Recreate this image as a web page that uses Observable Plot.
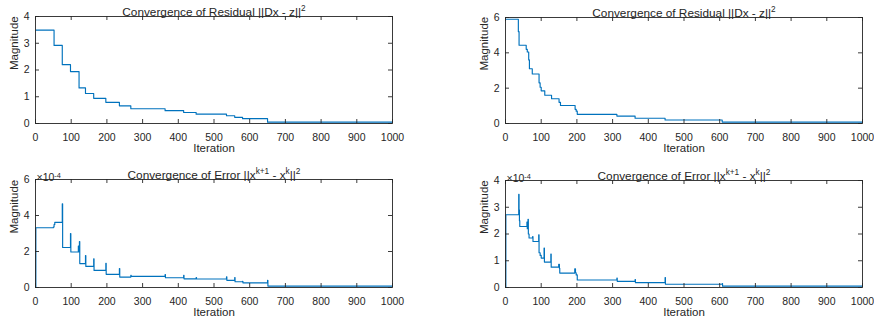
<!DOCTYPE html>
<html><head><meta charset="utf-8">
<script src="https://cdn.jsdelivr.net/npm/d3@7"></script>
<script src="https://cdn.jsdelivr.net/npm/@observablehq/plot@0.6"></script>
<style>
body{margin:0;background:#fff;}
#root{position:relative;width:874px;height:328px;overflow:hidden;font-family:"Liberation Sans",Arial,Helvetica,sans-serif;}
#root svg{position:absolute;overflow:visible;}
</style></head><body><div id="root"></div>
<script>
// ---- tick labels ----
const xTicks = [0,100,200,300,400,500,600,700,800,900,1000];
const yTicksResA = [0,1,2,3,4];
const yTicksResB = [0,2,4,6];
const yTicksErrA = [0,2,4,6];
const yTicksErrB = [0,1,2,3,4];

// ---- text ----
const xLabel = "Iteration";
const yLabel = "Magnitude";
const resTitle = [["Convergence of Residual ||Dx - z||", false], ["2", true]];
const errTitle = [["Convergence of Error ||x", false], ["k+1", true], [" - x", false], ["k", true], ["||", false], ["2", true]];
const expLabel = [["\u00d710", false], ["-4", true]];

// ---- Residual, left run (iteration where value starts, value) ----
const resAIter = [1, 52, 75, 98, 122, 140, 163, 197, 235, 267, 363, 415, 450, 535, 558, 580, 650, 1000];
const resAVal  = [3.49, 2.92, 2.20, 1.94, 1.33, 1.12, 0.94, 0.79, 0.66, 0.55, 0.48, 0.41, 0.35, 0.29, 0.23, 0.18, 0.05, 0.05];

// ---- Residual, right run ----
const resBIter = [1, 36, 38, 58, 61, 65, 67, 75, 94, 97, 100, 110, 129, 150, 154, 195, 198, 201, 312, 363, 447, 607, 1000];
const resBVal  = [5.9, 5.2, 4.43, 4.2, 4.05, 3.6, 3.1, 2.8, 2.3, 2.05, 1.85, 1.6, 1.4, 1.2, 1.02, 0.8, 0.7, 0.52, 0.42, 0.3, 0.2, 0.08, 0.08];

// ---- Error, left run (x1e-4) ----
const errAIter = [0, 1, 50, 52, 54, 75, 76, 98, 99, 120, 121, 123, 124, 140, 141, 163, 164, 197, 198, 235, 236, 267, 268, 363, 364, 415, 416, 450, 451, 535, 536, 558, 559, 580, 581, 650, 651, 1000];
const errAVal  = [0, 3.32, 3.36, 3.5, 3.62, 4.65, 2.22, 3.0, 1.97, 2.3, 1.97, 2.55, 1.33, 1.78, 1.17, 1.6, 0.95, 1.35, 0.73, 1.05, 0.58, 0.67, 0.62, 0.72, 0.54, 0.67, 0.48, 0.55, 0.47, 0.6, 0.4, 0.55, 0.32, 0.35, 0.26, 0.4, 0.08, 0.08];

// ---- Error, right run (x1e-4) ----
const errBIter = [0, 1, 37, 38, 39, 40, 60, 61, 63, 64, 66, 76, 77, 93, 94, 97, 100, 108, 109, 127, 128, 149, 151, 152, 194, 196, 198, 201, 312, 313, 363, 364, 447, 448, 607, 608, 1000];
const errBVal  = [0, 2.72, 3.48, 2.9, 2.5, 2.28, 2.45, 2.2, 2.55, 2.0, 1.85, 1.9, 1.72, 1.97, 1.3, 1.2, 1.1, 1.47, 0.95, 1.25, 0.76, 0.87, 0.72, 0.54, 0.7, 0.55, 0.47, 0.28, 0.35, 0.23, 0.3, 0.18, 0.37, 0.12, 0.15, 0.05, 0.05];

const INK = "#262626";
const LINE = "#0072BD";
const FONT = "'Liberation Sans', Arial, Helvetica, sans-serif";
const W = 437, H = 164;

function richify(svg, cls, parts) {
  d3.select(svg).selectAll("." + cls + " text").each(function() {
    const t = d3.select(this);
    t.text(null);
    let up = false;
    for (const [s, sup] of parts) {
      const ts = t.append("tspan").text(s);
      if (sup && !up) { ts.attr("dy", "-0.5em").attr("font-size", "0.7em"); up = true; }
      else if (sup && up) { ts.attr("font-size", "0.7em"); }
      else if (!sup && up) { ts.attr("dy", "0.35em"); up = false; }
    }
  });
}

function panel({iter, val, yDomain, yTicks, title, left, top, mt, ml, mr, exp}) {
  const mb = 41;
  const ih = H - mt - mb, iw = W - ml - mr, tl = 4;
  const marks = [
    Plot.line(iter, {x: iter, y: val, curve: "step-after", stroke: LINE, strokeWidth: 1.15}),
    Plot.frame({stroke: INK, strokeWidth: 0.9}),
    Plot.tickX(xTicks, {x: d => d, insetTop: ih - tl, stroke: INK, strokeWidth: 0.9}),
    Plot.tickX(xTicks, {x: d => d, insetBottom: ih - tl, stroke: INK, strokeWidth: 0.9}),
    Plot.tickY(yTicks, {y: d => d, insetRight: iw - tl, stroke: INK, strokeWidth: 0.9}),
    Plot.tickY(yTicks, {y: d => d, insetLeft: iw - tl, stroke: INK, strokeWidth: 0.9}),
    Plot.axisX(xTicks, {tickSize: 0, tickPadding: 10, label: null, fontSize: 10.5, tickFormat: d => String(d)}),
    Plot.axisY(yTicks, {tickSize: 0, tickPadding: 6, label: null, fontSize: 10.5, tickFormat: d => String(d)}),
    Plot.text([xLabel], {text: d => d, frameAnchor: "bottom", dy: 28.5, fontSize: 11.5, fill: INK}),
    Plot.text([yLabel], {text: d => d, frameAnchor: "left", rotate: -90, dx: -21, fontSize: 11.5, fill: INK}),
    Plot.text([title.map(p => p[0]).join("")], {text: d => d, frameAnchor: "top", dy: -9.3, fontSize: 11.8, fill: INK, className: "ttl"})
  ];
  if (exp) marks.push(Plot.text([exp.map(p => p[0]).join("")], {text: d => d, frameAnchor: "top-left", textAnchor: "start", dx: 1, dy: -5.5, fontSize: 10.5, fill: INK, className: "expl"}));
  const svg = Plot.plot({
    width: W, height: H,
    marginTop: mt, marginBottom: mb, marginLeft: ml, marginRight: mr,
    style: {fontFamily: FONT, color: INK, background: "transparent"},
    x: {domain: [0, 1000]},
    y: {domain: yDomain},
    marks
  });
  richify(svg, "ttl", title);
  if (exp) richify(svg, "expl", exp);
  svg.style.left = left + "px";
  svg.style.top = top + "px";
  document.getElementById("root").appendChild(svg);
}

panel({iter: resAIter, val: resAVal, yDomain: [0, 4], yTicks: yTicksResA, title: resTitle, left: 0, top: 0, mt: 16, ml: 35, mr: 45});
panel({iter: resBIter, val: resBVal, yDomain: [0, 6], yTicks: yTicksResB, title: resTitle, left: 437, top: 0, mt: 17, ml: 68, mr: 12});
panel({iter: errAIter, val: errAVal, yDomain: [0, 6], yTicks: yTicksErrA, title: errTitle, left: 0, top: 164, mt: 15, ml: 35, mr: 45, exp: expLabel});
panel({iter: errBIter, val: errBVal, yDomain: [0, 4], yTicks: yTicksErrB, title: errTitle, left: 437, top: 164, mt: 16, ml: 68, mr: 12, exp: expLabel});
</script>
</body></html>
